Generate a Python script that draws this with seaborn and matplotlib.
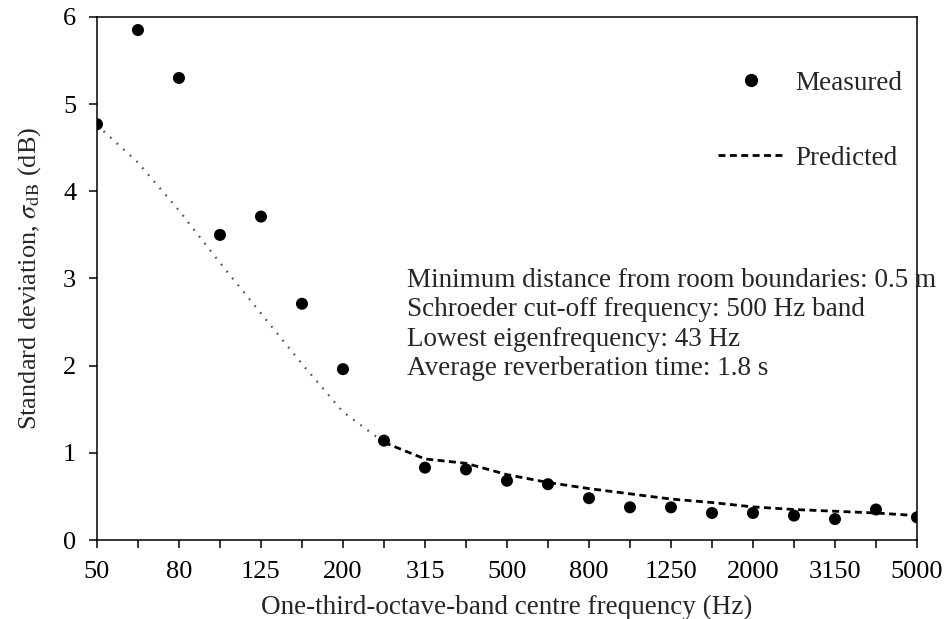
import numpy as np
import pandas as pd
import matplotlib
matplotlib.use("Agg")
import matplotlib.pyplot as plt
from matplotlib.lines import Line2D
import seaborn as sns

bands = ["50", "63", "80", "100", "125", "160", "200", "250", "315", "400", "500",
         "630", "800", "1000", "1250", "1600", "2000", "2500", "3150", "4000", "5000"]
measured = [4.77, 5.85, 5.30, 3.50, 3.71, 2.71, 1.96, 1.14, 0.83, 0.81, 0.68,
            0.64, 0.48, 0.375, 0.375, 0.31, 0.31, 0.28, 0.24, 0.35, 0.26]
predicted = [4.76, 4.33, 3.78, 3.18, 2.60, 2.02, 1.47, 1.12, 0.93, 0.88, 0.75,
             0.66, 0.59, 0.53, 0.47, 0.43, 0.38, 0.35, 0.33, 0.31, 0.28]
split_band = "250"
annotation_lines = [
    "Minimum distance from room boundaries: 0.5 m",
    "Schroeder cut-off frequency: 500 Hz band",
    "Lowest eigenfrequency: 43 Hz",
    "Average reverberation time: 1.8 s",
]

sns.set_theme(style="ticks")
plt.rcParams["font.family"] = ["Liberation Serif", "DejaVu Serif"]
plt.rcParams["mathtext.fontset"] = "stix"

FS = 19
FS2 = 19.5
df = pd.DataFrame({"band": bands, "pos": np.arange(len(bands)),
                   "measured": measured, "predicted": predicted})
k = bands.index(split_band)
low = df.iloc[:k + 1]
high = df.iloc[k:]

fig = plt.figure(figsize=(9.47, 6.19), dpi=100)
ax = fig.add_axes([0.1024, 0.1276, 0.8659, 0.845])

sns.lineplot(data=low, x="pos", y="predicted", ax=ax, color="#555555",
             lw=1.6, linestyle=(0, (0.8, 3.2)), legend=False)
sns.lineplot(data=high, x="pos", y="predicted", ax=ax, color="black",
             lw=2.0, linestyle=(0, (2.5, 1.6)), legend=False)
sns.scatterplot(data=df, x="pos", y="measured", ax=ax, color="black", s=75,
                edgecolor="none", zorder=5, legend=False)

ax.set_xlim(0, len(bands) - 1)
ax.set_ylim(0, 6)
ax.set_xticks(df["pos"])
ax.set_xticklabels([b if i % 2 == 0 else "" for i, b in enumerate(bands)])
ax.set_yticks(range(0, 7))
for s in ax.spines.values():
    s.set_linewidth(1.1)
    s.set_color("black")
    s.set_visible(True)
ax.tick_params(axis="both", direction="out", length=6, width=1.1,
               labelsize=FS, colors="black", pad=9)
ax.set_xlabel("One-third-octave-band centre frequency (Hz)", fontsize=FS2, labelpad=9)
ax.set_ylabel(r"Standard deviation, $\sigma_{\rm dB}$ (dB)", fontsize=FS, labelpad=14)

handles = [
    Line2D([], [], marker="o", color="black", linestyle="none", markersize=8.5),
    Line2D([], [], color="black", lw=2.0, linestyle=(0, (2.5, 1.6))),
]
ax.legend(handles, ["Measured", "Predicted"], loc="upper right",
          bbox_to_anchor=(0.999, 0.923), frameon=False, fontsize=FS2,
          borderpad=0, handlelength=2.4, handletextpad=0.45, labelspacing=1.84)

ax.text(0.378, 0.521, "\n".join(annotation_lines), transform=ax.transAxes,
        fontsize=FS2, va="top", ha="left", linespacing=1.24)

fig.savefig("out.png", dpi=100)
